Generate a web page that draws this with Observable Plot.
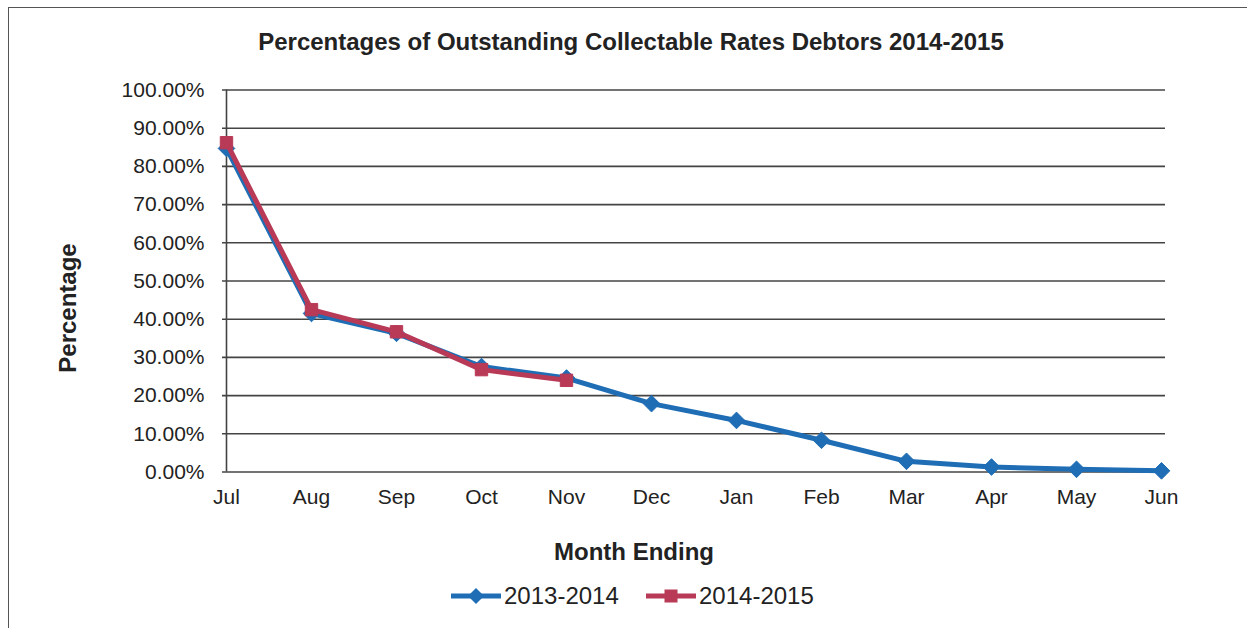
<!DOCTYPE html>
<html>
<head>
<meta charset="utf-8">
<script src="https://cdn.jsdelivr.net/npm/d3@7"></script>
<script src="https://cdn.jsdelivr.net/npm/@observablehq/plot@0.6"></script>
<style>
  html, body { margin: 0; padding: 0; background: #fff; }
  body { width: 1247px; height: 628px; position: relative; overflow: hidden; font-family: Arial, "Liberation Sans", sans-serif; color: #222; }
  #frame { position: absolute; left: 8px; top: 7px; width: 1240px; height: 630px; border: 1.5px solid #555; box-sizing: border-box; }
  #title { position: absolute; left: 0; width: 1262px; top: 28px; text-align: center; font-weight: bold; font-size: 24px; line-height: 28px; }
  #chart { position: absolute; left: 0; top: 60px; }
  #ylab { position: absolute; left: 68px; top: 308px; transform: translate(-50%, -50%) rotate(-90deg); font-weight: bold; font-size: 24px; white-space: nowrap; }
  #xlab { position: absolute; left: 0; width: 1268px; top: 538px; text-align: center; font-weight: bold; font-size: 24px; line-height: 28px; }
  #legend { position: absolute; top: 0; left: 0; }
  #legend .item { position: absolute; top: 582px; display: flex; align-items: center; font-size: 24px; line-height: 28px; white-space: nowrap; }
  #legend svg { margin-right: 3px; }
</style>
</head>
<body>
<div id="frame"></div>
<div id="title">Percentages of Outstanding Collectable Rates Debtors 2014-2015</div>
<div id="chart"></div>
<div id="ylab">Percentage</div>
<div id="xlab">Month Ending</div>
<div id="legend"></div>
<script>
const months = ["Jul","Aug","Sep","Oct","Nov","Dec","Jan","Feb","Mar","Apr","May","Jun"];
const series2013 = [84.7, 41.5, 36.3, 27.6, 24.6, 17.9, 13.5, 8.3, 2.8, 1.3, 0.7, 0.3];
const series2014 = [86.2, 42.5, 36.7, 26.8, 24.0];
const seriesNames = ["2013-2014", "2014-2015"];
const seriesColors = ["#1f6db5", "#b83a57"];
const yTicks = [0, 10, 20, 30, 40, 50, 60, 70, 80, 90, 100];

const data2013 = months.map((m, i) => ({month: m, value: series2013[i], series: seriesNames[0]}));
const data2014 = series2014.map((v, i) => ({month: months[i], value: v, series: seriesNames[1]}));

const chart = Plot.plot({
  width: 1247,
  height: 500,
  marginTop: 29.5,
  marginBottom: 88.5,
  marginLeft: 222,
  marginRight: 82,
  style: {fontFamily: "Arial, 'Liberation Sans', sans-serif", fontSize: "21px", color: "#222", background: "transparent"},
  x: {type: "point", domain: months, padding: 0, label: null, tickSize: 0, tickPadding: 17},
  y: {domain: [0, 100], ticks: yTicks, tickFormat: d => d.toFixed(2) + "%", label: null, tickSize: 0, tickPadding: 18},
  marks: [
    Plot.ruleY(yTicks, {stroke: "#444", strokeWidth: 1.6}),
    Plot.ruleX([months[0]], {y1: 0, y2: 100, stroke: "#444", strokeWidth: 1.6}),
    Plot.line(data2013, {x: "month", y: "value", stroke: seriesColors[0], strokeWidth: 5, strokeLinejoin: "round"}),
    Plot.dot(data2013, {x: "month", y: "value", symbol: "diamond2", r: 7.5, fill: seriesColors[0], stroke: seriesColors[0], strokeWidth: 1}),
    Plot.line(data2014, {x: "month", y: "value", stroke: seriesColors[1], strokeWidth: 5, strokeLinejoin: "round"}),
    Plot.dot(data2014, {x: "month", y: "value", symbol: "square", r: 7, fill: seriesColors[1], stroke: seriesColors[1], strokeWidth: 1})
  ]
});
document.getElementById("chart").appendChild(chart);

// Legend
const legend = document.getElementById("legend");
const legendLefts = [451, 646];
seriesNames.forEach((name, i) => {
  const item = document.createElement("div");
  item.className = "item";
  item.style.left = legendLefts[i] + "px";
  const ns = "http://www.w3.org/2000/svg";
  const svg = document.createElementNS(ns, "svg");
  svg.setAttribute("width", 50);
  svg.setAttribute("height", 20);
  const line = document.createElementNS(ns, "line");
  line.setAttribute("x1", 0); line.setAttribute("x2", 50);
  line.setAttribute("y1", 10); line.setAttribute("y2", 10);
  line.setAttribute("stroke", seriesColors[i]);
  line.setAttribute("stroke-width", 5);
  svg.appendChild(line);
  const sym = document.createElementNS(ns, "path");
  const d = i === 0 ? "M25,2 L33,10 L25,18 L17,10 Z" : "M18.5,3.5 L31.5,3.5 L31.5,16.5 L18.5,16.5 Z";
  sym.setAttribute("d", d);
  sym.setAttribute("fill", seriesColors[i]);
  svg.appendChild(sym);
  item.appendChild(svg);
  const t = document.createElement("span");
  t.textContent = name;
  item.appendChild(t);
  legend.appendChild(item);
});
</script>
</body>
</html>
